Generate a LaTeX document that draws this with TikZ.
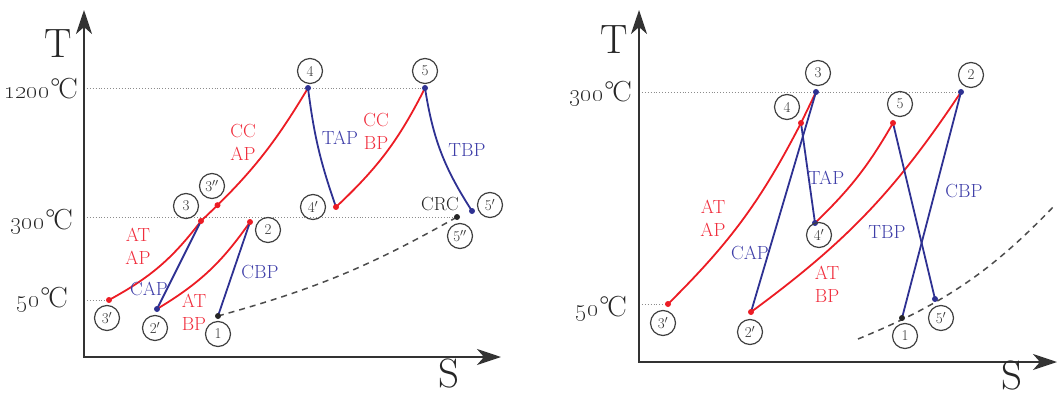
\documentclass[tikz,border=0pt]{standalone}
\usetikzlibrary{arrows.meta}
\definecolor{pred}{RGB}{236,28,36}
\definecolor{pblue}{RGB}{46,49,146}
\definecolor{tred}{RGB}{240,45,60}
\definecolor{tblue}{RGB}{62,62,168}
\newcommand{\templab}[1]{{\fontsize{23}{23}\selectfont\oldstylenums{#1}}\kern1pt{\fontsize{29}{29}\selectfont °\kern-2pt C}}
\tikzset{
  axisline/.style={line width=2.5pt, black!80, {Stealth[length=24pt,width=16pt,inset=7pt]}-{Stealth[length=24pt,width=16pt,inset=7pt]}},
  guide/.style={black!45, dotted, line width=0.9pt},
  redc/.style={pred, line width=1.8pt},
  bluec/.style={pblue, line width=1.8pt},
  sat/.style={black!70, line width=1.5pt, dash pattern=on 6pt off 5pt},
  dotpt/.style={circle, fill=#1, inner sep=0pt, minimum size=6pt},
  numlab/.style={circle, draw=black!75, line width=1.2pt, minimum size=25pt, inner sep=0pt, font=\fontsize{15}{15}\selectfont, text=black!80},
  rtxt/.style={text=tred, align=center, font=\fontsize{19}{23}\selectfont, inner sep=0pt},
  btxt/.style={text=tblue, align=center, font=\fontsize{19}{23}\selectfont, inner sep=0pt},
  ktxt/.style={text=black!85, align=center, font=\fontsize{19}{23}\selectfont, inner sep=0pt},
  axlab/.style={font=\fontsize{41}{41}\selectfont, text=black!85, inner sep=0pt, anchor=base},
  tlab/.style={anchor=base east, inner sep=0pt, text=black!85},
}
\begin{document}
\begin{tikzpicture}[x=1pt,y=-1pt]
\useasboundingbox (0,0) rectangle (1057,396);
% ---------------- left diagram ----------------
\coordinate (OL) at (84,357);
\coordinate (YL) at (84,10);
\coordinate (XL) at (501,357);
\coordinate (g1200) at (84,88);
\coordinate (g300L) at (84,217);
\coordinate (g50L) at (84,300);
\coordinate (L1) at (218,316);
\coordinate (L2) at (250,222);
\coordinate (L2p) at (157,309);
\coordinate (L3) at (201,221);
\coordinate (L3p) at (109,300);
\coordinate (L4) at (308,88);
\coordinate (L4p) at (336,207);
\coordinate (L5) at (425,88);
\coordinate (L5p) at (472,211);
\coordinate (L5pp) at (457,217);

\draw[guide] (g1200) -- (L5);
\draw[guide] (g300L) -- (L5pp);
\draw[guide] (g50L) -- (L3p);
\draw[axisline] (YL) -- (OL) -- (XL);

\draw[sat] (L1) to[bend right=7] (L5pp);
\draw[redc] (L3p) to[bend right=12] (L3);
\draw[redc] (L3) to[bend right=8] coordinate[pos=0.12] (L3pp) (L4);
\draw[bluec] (L2p) -- (L3);
\draw[redc] (L2p) to[bend right=12] (L2);
\draw[bluec] (L1) -- (L2);
\draw[bluec] (L4) to[bend right=6] (L4p);
\draw[redc] (L4p) to[bend right=10] (L5);
\draw[bluec] (L5) to[bend right=12] (L5p);

\node[dotpt=pred] (d3p) at (L3p) {};
\node[dotpt=pred] (d3) at (L3) {};
\node[dotpt=pred] (d3pp) at (L3pp) {};
\node[dotpt=pblue] (d4) at (L4) {};
\node[dotpt=pred] (d4p) at (L4p) {};
\node[dotpt=pblue] (d5) at (L5) {};
\node[dotpt=pblue] (d5p) at (L5p) {};
\node[dotpt=black!85] (d5pp) at (L5pp) {};
\node[dotpt=pred] (d2) at (L2) {};
\node[dotpt=pblue] (d2p) at (L2p) {};
\node[dotpt=black!85] (d1) at (L1) {};

\node[numlab] (n1) at (218,334) {1};
\node[numlab] (n2) at (268,230) {2};
\node[numlab] (n2p) at (155,328) {2$'$};
\node[numlab] (n3) at (186,206) {3};
\node[numlab] (n3p) at (107,318) {3$'$};
\node[numlab] (n3pp) at (212,186) {3$''$};
\node[numlab] (n4) at (310,71) {4};
\node[numlab] (n4p) at (313,207) {4$'$};
\node[numlab] (n5) at (425,71) {5};
\node[numlab] (n5p) at (490,205) {5$'$};
\node[numlab] (n5pp) at (460,236) {5$''$};

\node[rtxt] (ccap) at (243,142) {CC\\AP};
\node[btxt] (tapL) at (340,138) {TAP};
\node[rtxt] (ccbp) at (376,131) {CC\\BP};
\node[btxt] (tbpL) at (467,150) {TBP};
\node[rtxt] (atapL) at (138,246) {AT\\AP};
\node[btxt] (capL) at (149,289) {CAP};
\node[rtxt] (atbpL) at (194,312) {AT\\BP};
\node[btxt] (cbpL) at (260,272) {CBP};
\node[ktxt] (crc) at (440,204) {CRC};

\node[axlab] (TL) at (58,57) {T};
\node[axlab] (SL) at (449,387) {S};
\node[tlab] (t1200) at (78,98) {\templab{1200}};
\node[tlab] (t300L) at (73,229) {\templab{300}};
\node[tlab] (t50L) at (68,307) {\templab{50}};

% ---------------- right diagram ----------------
\coordinate (OR) at (639,362);
\coordinate (YR) at (639,10);
\coordinate (XR) at (1057,362);
\coordinate (g300R) at (639,92);
\coordinate (g50R) at (639,304);
\coordinate (R1) at (902,318);
\coordinate (R2) at (961,92);
\coordinate (R2p) at (751,312);
\coordinate (R3) at (816,92);
\coordinate (R3p) at (668,304);
\coordinate (R4) at (801,123);
\coordinate (R4p) at (815,223);
\coordinate (R5) at (893,123);
\coordinate (R5p) at (935,299);
\coordinate (Rds) at (858,339);
\coordinate (Rde) at (1056,204);

\draw[guide] (g300R) -- (R2);
\draw[guide] (g50R) -- (R3p);
\draw[axisline] (YR) -- (OR) -- (XR);

\draw[sat] (Rds) to[bend right=12] (Rde);
\draw[redc] (R3p) to[bend right=9] (R4) -- (R3);
\draw[bluec] (R2p) -- (R3);
\draw[redc] (R2p) to[bend right=10] (R2);
\draw[bluec] (R4) -- (R4p);
\draw[redc] (R4p) to[bend right=8] (R5);
\draw[bluec] (R5) -- (R5p);
\draw[bluec] (R1) -- (R2);

\node[dotpt=pred] (e3p) at (R3p) {};
\node[dotpt=pred] (e2p) at (R2p) {};
\node[dotpt=pred] (e4) at (R4) {};
\node[dotpt=pblue] (e3) at (R3) {};
\node[dotpt=pblue] (e4p) at (R4p) {};
\node[dotpt=pred] (e5) at (R5) {};
\node[dotpt=pblue] (e2) at (R2) {};
\node[dotpt=black!85] (e1) at (R1) {};
\node[dotpt=pblue] (e5p) at (R5p) {};

\node[numlab] (m1) at (905,336) {1};
\node[numlab] (m2) at (971,75) {2};
\node[numlab] (m2p) at (750,332) {2$'$};
\node[numlab] (m3) at (818,73) {3};
\node[numlab] (m3p) at (663,323) {3$'$};
\node[numlab] (m4) at (787,107) {4};
\node[numlab] (m4p) at (819,235) {4$'$};
\node[numlab] (m5) at (900,104) {5};
\node[numlab] (m5p) at (941,318) {5$'$};

\node[rtxt] (atapR) at (713,218) {AT\\AP};
\node[btxt] (capR) at (750,253) {CAP};
\node[btxt] (tapR) at (826,178) {TAP};
\node[btxt] (tbpR) at (887,232) {TBP};
\node[btxt] (cbpR) at (964,191) {CBP};
\node[rtxt] (atbpR) at (827,284) {AT\\BP};

\node[axlab] (TR) at (614,53) {T};
\node[axlab] (SR) at (1012,389) {S};
\node[tlab] (t300R) at (632,101) {\templab{300}};
\node[tlab] (t50R) at (627,316) {\templab{50}};
\end{tikzpicture}
\end{document}
